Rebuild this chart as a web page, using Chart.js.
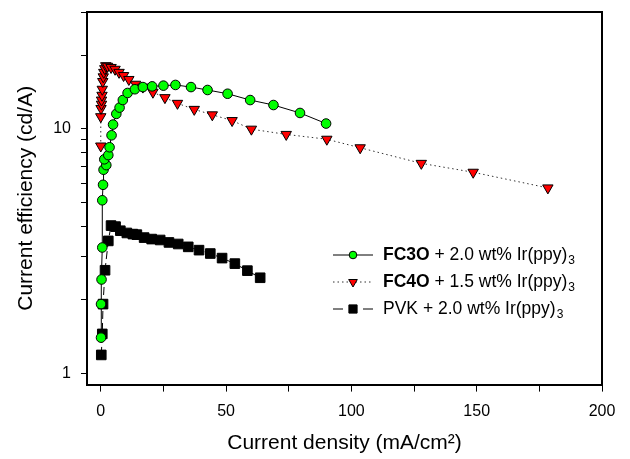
<!DOCTYPE html>
<html>
<head>
<meta charset="utf-8">
<script src="https://cdn.jsdelivr.net/npm/chart.js@4.4.1/dist/chart.umd.min.js"></script>
<style>
  html, body { margin: 0; padding: 0; background: #fff; }
  #wrap { width: 630px; height: 459px; }
</style>
</head>
<body>
<div id="wrap"><canvas id="chart-1" width="630" height="459"></canvas></div>
<script>
// Current efficiency vs current density

var FONT = 'Arial, "Liberation Sans", sans-serif';

var fc3oX = [0.1, 0.1, 0.3, 0.6, 0.6, 0.9, 1.1, 2.2, 1.4, 3.0, 3.5, 4.3, 4.9, 6.2, 7.5, 8.8, 10.7, 13.6, 16.8, 20.5, 25.0, 29.8, 36.0, 42.6, 50.6, 59.6, 68.9, 79.5, 89.9];
var fc3oY = [1.40, 1.92, 2.42, 3.27, 5.1, 5.9, 6.8, 7.1, 7.5, 7.8, 8.4, 9.4, 10.4, 11.5, 12.2, 13.1, 14.0, 14.5, 14.8, 14.9, 15.0, 15.1, 14.8, 14.4, 13.9, 13.1, 12.5, 11.6, 10.5];

var fc4oX = [0.0, 0.0, 0.1, 0.3, 0.3, 0.5, 0.6, 0.8, 1.0, 1.2, 1.6, 2.0, 2.7, 4.1, 5.7, 7.3, 9.1, 11.2, 13.9, 16.8, 20.8, 25.6, 30.6, 37.3, 44.5, 52.4, 60.1, 74.0, 90.2, 103.5, 127.9, 148.6, 178.4];
var fc4oY = [8.5, 11.2, 12.1, 12.6, 13.1, 13.7, 14.5, 15.6, 16.3, 17.0, 17.6, 18.1, 18.0, 17.8, 17.5, 17.0, 16.5, 15.9, 15.2, 14.8, 14.1, 13.4, 12.7, 12.0, 11.4, 10.8, 9.96, 9.48, 9.06, 8.36, 7.22, 6.64, 5.73];

var pvkX = [0.2, 0.6, 0.9, 1.7, 3.0, 4.1, 5.9, 7.8, 10.4, 12.8, 14.4, 17.3, 20.3, 23.7, 27.2, 30.9, 34.9, 39.2, 43.7, 48.4, 53.5, 58.5, 63.6];
var pvkY = [1.19, 1.45, 1.92, 2.64, 3.48, 4.02, 3.98, 3.83, 3.75, 3.71, 3.69, 3.59, 3.54, 3.51, 3.43, 3.38, 3.29, 3.19, 3.09, 2.96, 2.81, 2.63, 2.46];

var xTicks = [0, 25, 50, 75, 100, 125, 150, 175, 200];
var xLabels = [0, 50, 100, 150, 200];
var yTicks = [1, 2, 3, 4, 5, 6, 7, 8, 9, 10, 20, 30];
var yLabels = [1, 10];

var legendItems = [
    { bold: 'FC3O', rest: ' + 2.0 wt% Ir(ppy)', sub: '3', dash: [] },
    { bold: 'FC4O', rest: ' + 1.5 wt% Ir(ppy)', sub: '3', dash: [1.5, 3] },
    { bold: '',     rest: 'PVK + 2.0 wt% Ir(ppy)', sub: '3', dash: [10, 20] }
];

function pts(xs, ys) {
    return xs.map(function (x, i) { return { x: x, y: ys[i] }; });
}

// top and right frame lines
var framePlugin = {
    id: 'frame',
    afterDraw: function (chart) {
        var a = chart.chartArea, c = chart.ctx;
        c.save();
        c.strokeStyle = '#000';
        c.lineWidth = 2;
        c.beginPath();
        c.moveTo(a.left, a.top);
        c.lineTo(a.right, a.top);
        c.lineTo(a.right, a.bottom);
        c.stroke();
        c.restore();
    }
};

// legend with bold names and subscripts
var legendPlugin = {
    id: 'richLegend',
    afterDraw: function (chart) {
        var c = chart.ctx;
        var ds = chart.data.datasets;
        var x0 = 333, x1 = 373, tx = 383;
        var rows = [255, 282, 309];
        c.save();
        for (var i = 0; i < legendItems.length; i++) {
            var y = rows[i], d = ds[i];
            c.strokeStyle = d.borderColor;
            c.lineWidth = 1;
            c.setLineDash(legendItems[i].dash);
            c.beginPath();
            c.moveTo(x0, y);
            c.lineTo(x1, y);
            c.stroke();
            c.setLineDash([]);
            c.fillStyle = d.pointBackgroundColor;
            c.strokeStyle = '#000';
            Chart.helpers.drawPoint(c, {
                pointStyle: d.pointStyle,
                rotation: d.pointRotation || 0,
                radius: d.pointRadius - 1,
                borderWidth: 1
            }, (x0 + x1) / 2, y);
            c.fillStyle = '#000';
            c.textBaseline = 'middle';
            var x = tx;
            if (legendItems[i].bold) {
                c.font = 'bold 17.5px ' + FONT;
                c.fillText(legendItems[i].bold, x, y);
                x += c.measureText(legendItems[i].bold).width;
            }
            c.font = '17.5px ' + FONT;
            c.fillText(legendItems[i].rest, x, y);
            x += c.measureText(legendItems[i].rest).width;
            c.font = '12px ' + FONT;
            c.fillText(legendItems[i].sub, x + 1, y + 6);
        }
        c.restore();
    }
};

var ctx = document.getElementById('chart-1').getContext('2d');
var chart = new Chart(ctx, {
    type: 'scatter',
    data: {
        datasets: [{
            label: 'FC3O + 2.0 wt% Ir(ppy)3',
            data: pts(fc3oX, fc3oY),
            showLine: true,
            borderColor: '#000',
            borderWidth: 1,
            pointStyle: 'circle',
            pointRadius: 4.8,
            pointBackgroundColor: '#00ff00',
            pointBorderColor: '#000',
            pointBorderWidth: 1
        }, {
            label: 'FC4O + 1.5 wt% Ir(ppy)3',
            data: pts(fc4oX, fc4oY),
            showLine: true,
            borderColor: '#333',
            borderWidth: 1,
            borderDash: [1.5, 3],
            pointStyle: 'triangle',
            pointRotation: 180,
            pointRadius: 6,
            pointBackgroundColor: '#ff0000',
            pointBorderColor: '#000',
            pointBorderWidth: 1
        }, {
            label: 'PVK + 2.0 wt% Ir(ppy)3',
            data: pts(pvkX, pvkY),
            showLine: true,
            borderColor: '#000',
            borderWidth: 1,
            borderDash: [8, 4],
            pointStyle: 'rect',
            pointRadius: 6.8,
            pointBackgroundColor: '#000',
            pointBorderColor: '#000',
            pointBorderWidth: 1
        }]
    },
    options: {
        responsive: false,
        animation: false,
        layout: { padding: { left: 14, right: 28, top: 12, bottom: 3 } },
        plugins: {
            legend: { display: false },
            tooltip: { enabled: false }
        },
        scales: {
            x: {
                type: 'linear',
                min: -5.5,
                max: 200,
                afterBuildTicks: function (s) {
                    s.ticks = xTicks.map(function (v) { return { value: v }; });
                },
                ticks: {
                    autoSkip: false,
                    maxRotation: 0,
                    padding: 10,
                    color: '#000',
                    font: { family: FONT, size: 16 },
                    callback: function (v) { return xLabels.indexOf(v) >= 0 ? String(v) : ''; }
                },
                grid: { drawOnChartArea: false, drawTicks: true, tickLength: 7, color: '#000', lineWidth: 1 },
                border: { display: true, color: '#000', width: 2 },
                title: {
                    display: true,
                    text: 'Current density (mA/cm²)',
                    color: '#000',
                    font: { family: FONT, size: 21 },
                    padding: { top: 0, bottom: 0 }
                }
            },
            y: {
                type: 'logarithmic',
                min: 0.9,
                max: 30,
                afterBuildTicks: function (s) {
                    s.ticks = yTicks.map(function (v) { return { value: v }; });
                },
                afterFit: function (s) {
                    s.paddingTop = 0;
                    s.paddingBottom = 0;
                },
                ticks: {
                    autoSkip: false,
                    padding: 10,
                    color: '#000',
                    font: { family: FONT, size: 16 },
                    callback: function (v) { return yLabels.indexOf(v) >= 0 ? String(v) : ''; }
                },
                grid: { drawOnChartArea: false, drawTicks: true, tickLength: 6, color: '#000', lineWidth: 1 },
                border: { display: true, color: '#000', width: 2 },
                title: {
                    display: true,
                    text: 'Current efficiency (cd/A)',
                    color: '#000',
                    font: { family: FONT, size: 21 },
                    padding: { top: 0, bottom: 4 }
                }
            }
        }
    },
    plugins: [framePlugin, legendPlugin]
});
</script>
</body>
</html>
